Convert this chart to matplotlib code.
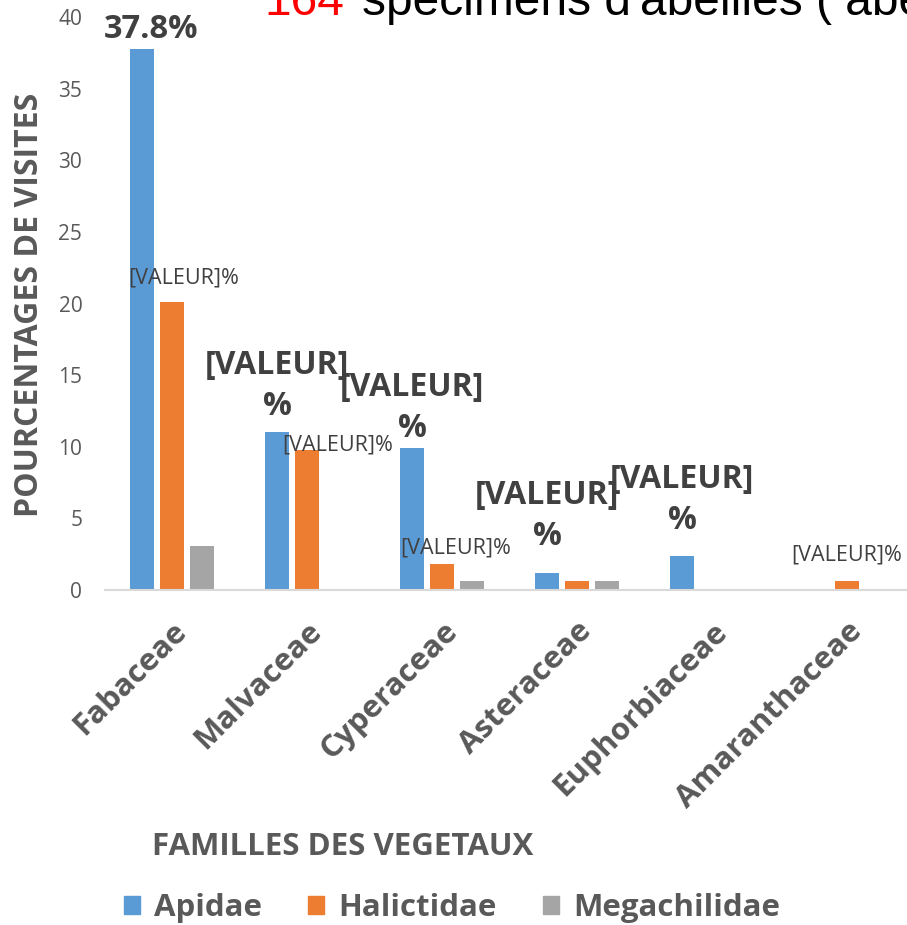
import numpy as np
import matplotlib.pyplot as plt
from matplotlib.patches import Patch

# data
familles = ['Fabaceae', 'Malvaceae', 'Cyperaceae', 'Asteraceae', 'Euphorbiaceae', 'Amaranthaceae']
apidae = [37.8, 11.0, 9.9, 1.2, 2.4, 0]
halictidae = [20.1, 9.8, 1.8, 0.6, 0, 0.6]
megachilidae = [3.1, 0, 0.6, 0.6, 0, 0]
series_names = ['Apidae', 'Halictidae', 'Megachilidae']
colors = ['#5B9BD5', '#ED7D31', '#A5A5A5']

# data labels as they appear (series index, family index, text, bold)
labels = [
    (0, 0, '37.8%', True),
    (1, 0, '[VALEUR]%', False),
    (0, 1, '[VALEUR]\n%', True),
    (1, 1, '[VALEUR]%', False),
    (0, 2, '[VALEUR]\n%', True),
    (1, 2, '[VALEUR]%', False),
    (0, 3, '[VALEUR]\n%', True),
    (0, 4, '[VALEUR]\n%', True),
    (1, 5, '[VALEUR]%', False),
]
# label offsets from bar top (x in group units, y in value units)
label_offsets = [(0.07, 1.3), (0.09, 1.7), (0, 3.24), (0.23, 0.3), (0, 2.8),
                 (0.1, 1.13), (0, 3.97), (0, 3.88), (0, 1.84)]

plt.rcParams['font.family'] = ['Open Sans', 'DejaVu Sans']
grey = '#595959'
dark = '#404040'

fig = plt.figure(figsize=(9.07, 9.25), dpi=100)
W, H = 907, 925
ax = fig.add_axes([104.5 / W, 1 - 590 / H, 810 / W, (590 - 17) / H])

x = np.arange(len(familles))
values = [apidae, halictidae, megachilidae]
step = 0.222
width = 0.175
for i, vals in enumerate(values):
    ax.bar(x + (i - 1) * step, vals, width, color=colors[i], zorder=2)

for (s, g, txt, bold), (dx, dy) in zip(labels, label_offsets):
    bx = g + (s - 1) * step
    by = values[s][g]
    if bold:
        size = 23.5 if '\n' not in txt else 23
        ax.text(bx + dx, by + dy, txt, ha='center', va='center', fontsize=size,
                fontweight='bold', color=dark, linespacing=1.35, zorder=3)
    else:
        ax.text(bx + dx, by + dy, txt, ha='center', va='center', fontsize=15.5,
                color=dark, zorder=3)

ax.set_xlim(-0.5, 5.5)
ax.set_ylim(0, 40)
ax.set_yticks(range(0, 41, 5))
ax.tick_params(axis='y', length=0, labelsize=15, labelcolor=grey, pad=16)
ax.tick_params(axis='x', length=0, pad=19)
ax.set_xticks(x)
ax.set_xticklabels(familles, rotation=45, ha='right', rotation_mode='anchor',
                   fontsize=22.5, fontweight='bold', color=grey)
for sp in ['top', 'right', 'left']:
    ax.spines[sp].set_visible(False)
ax.spines['bottom'].set_color('#D9D9D9')
ax.spines['bottom'].set_linewidth(1.5)

fig.text(30 / W, 1 - 305 / H, 'POURCENTAGES DE VISITES', rotation=90, ha='center',
         va='center', fontsize=23, fontweight='bold', color=grey)
fig.text(343 / W, 1 - 847 / H, 'FAMILLES DES VEGETAUX', ha='center', va='center',
         fontsize=22.5, fontweight='bold', color=grey)

handles = [Patch(color=c) for c in colors]
fig.legend(handles, series_names, loc='center', bbox_to_anchor=(452 / W, 1 - 908 / H),
           ncol=3, frameon=False, handlelength=0.5, handleheight=0.5,
           handletextpad=0.45, columnspacing=1.5,
           prop={'family': 'Open Sans', 'weight': 'bold', 'size': 22.5})
for t in fig.legends[0].get_texts():
    t.set_color(grey)

# title, cut off at the top of the picture
fig.text(344 / W, 1 - 15 / H, '164', ha='right', va='baseline', fontsize=34.5,
         color='red', family='Liberation Sans')
fig.text(362 / W, 1 - 15 / H, "spécimens d'abeilles ( abeilles", ha='left', va='baseline',
         fontsize=34.5, color='black', family='Liberation Sans')

fig.savefig('out.png', dpi=100)
